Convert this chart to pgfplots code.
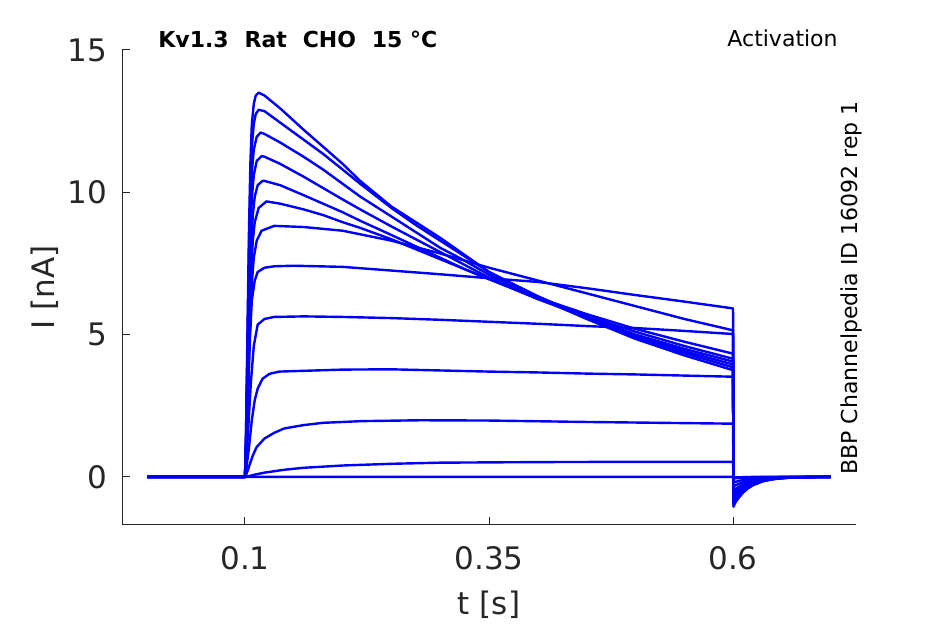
\documentclass[border=0pt]{standalone}
\usepackage{pgfplots}
\pgfplotsset{compat=1.18}
\usepackage{fontspec}
\setmainfont{DejaVu Sans}
\definecolor{axgray}{HTML}{262626}
\definecolor{trblue}{RGB}{0,0,250}
\begin{document}
\begin{tikzpicture}
\path[use as bounding box] (0,0) rectangle (472.5pt,312pt);
\begin{axis}[
  at={(61pt,49.5pt)}, anchor=south west,
  scale only axis, width=367pt, height=237.5pt,
  xmin=-0.026, xmax=0.726, ymin=-1.69, ymax=15,
  axis x line*=bottom, axis y line*=left,
  axis line style={draw=axgray, line width=0.5pt, -},
  tick align=inside, major tick length=4pt,
  tick style={draw=axgray, line width=0.5pt},
  xtick={0.1,0.35,0.6}, ytick={0,5,10,15},
  /pgf/number format/assume math mode=true,
  ticklabel style={font=\fontsize{15.5}{18}\selectfont, text=axgray},
  xticklabel style={yshift=-7pt},
  yticklabel style={xshift=-4pt},
  xlabel={t [s]}, ylabel={I [nA]},
  label style={font=\fontsize{15.5}{18}\selectfont, text=axgray},
  xlabel style={at={(axis description cs:0.5,0)}, anchor=base, yshift=-45pt},
  ylabel style={at={(axis description cs:-0.0926,0.5)}, anchor=base},
  tr/.style={trblue, line width=1.2pt, line join=round},
]
% A
\addplot[tr] coordinates {(0,0) (0.1,0) (0.101,1.5) (0.1025,5) (0.104,8.5) (0.1055,11) (0.107,12.4) (0.109,13.1) (0.111,13.4) (0.114,13.5) (0.12,13.4) (0.136,12.95) (0.16,12.2) (0.18,11.6) (0.2,11.0) (0.218,10.4) (0.25,9.5) (0.275,8.95) (0.3,8.4) (0.325,7.8) (0.35,7.2) (0.4,6.3) (0.45,5.55) (0.5,4.85) (0.55,4.27) (0.6,3.75) (0.6005,-1.05) (0.602,-0.92) (0.605,-0.77) (0.61,-0.56) (0.615,-0.41) (0.62,-0.30) (0.63,-0.16) (0.64,-0.086) (0.65,-0.046) (0.66,-0.024) (0.68,-0.007) (0.7,0)};
% B
\addplot[tr] coordinates {(0,0) (0.1,0) (0.101,1.4) (0.1025,4.6) (0.104,7.8) (0.1055,10.2) (0.107,11.6) (0.109,12.4) (0.111,12.75) (0.114,12.9) (0.12,12.85) (0.136,12.45) (0.16,11.85) (0.18,11.35) (0.2,10.8) (0.218,10.3) (0.25,9.45) (0.275,8.85) (0.3,8.3) (0.325,7.75) (0.35,7.2) (0.4,6.35) (0.45,5.6) (0.5,4.9) (0.55,4.35) (0.6,3.85) (0.6005,-1.0) (0.602,-0.88) (0.605,-0.73) (0.61,-0.535) (0.615,-0.39) (0.62,-0.287) (0.63,-0.153) (0.64,-0.082) (0.65,-0.044) (0.66,-0.023) (0.68,-0.007) (0.7,0)};
% C
\addplot[tr] coordinates {(0,0) (0.1,0) (0.101,1.2) (0.1025,4.0) (0.104,7.0) (0.1055,9.3) (0.107,10.7) (0.109,11.5) (0.112,11.95) (0.116,12.1) (0.12,12.05) (0.136,11.75) (0.16,11.25) (0.18,10.8) (0.2,10.3) (0.218,9.85) (0.25,9.15) (0.275,8.6) (0.3,8.05) (0.325,7.6) (0.35,7.1) (0.4,6.3) (0.45,5.6) (0.5,4.95) (0.55,4.42) (0.6,3.95) (0.6005,-0.95) (0.602,-0.84) (0.605,-0.69) (0.61,-0.51) (0.615,-0.37) (0.62,-0.27) (0.63,-0.145) (0.64,-0.078) (0.65,-0.042) (0.66,-0.022) (0.68,-0.007) (0.7,0)};
% D
\addplot[tr] coordinates {(0,0) (0.1,0) (0.101,1.1) (0.1025,3.6) (0.104,6.3) (0.1055,8.4) (0.107,9.8) (0.109,10.6) (0.112,11.1) (0.117,11.27) (0.12,11.25) (0.136,11.0) (0.16,10.55) (0.18,10.15) (0.2,9.75) (0.218,9.4) (0.25,8.8) (0.275,8.35) (0.3,7.9) (0.325,7.45) (0.35,7.0) (0.4,6.25) (0.45,5.6) (0.5,5.0) (0.55,4.5) (0.6,4.05) (0.6005,-0.9) (0.602,-0.79) (0.605,-0.66) (0.61,-0.48) (0.615,-0.35) (0.62,-0.26) (0.63,-0.14) (0.64,-0.074) (0.65,-0.04) (0.66,-0.021) (0.68,-0.006) (0.7,0)};
% E
\addplot[tr] coordinates {(0,0) (0.1,0) (0.101,1.0) (0.1025,3.2) (0.104,5.6) (0.106,7.9) (0.108,9.2) (0.11,9.85) (0.113,10.25) (0.118,10.4) (0.12,10.4) (0.136,10.25) (0.16,9.9) (0.18,9.6) (0.2,9.3) (0.218,9.0) (0.25,8.5) (0.275,8.1) (0.3,7.7) (0.325,7.3) (0.35,6.95) (0.4,6.25) (0.45,5.65) (0.5,5.1) (0.55,4.6) (0.6,4.15) (0.6005,-0.85) (0.602,-0.75) (0.605,-0.62) (0.61,-0.455) (0.615,-0.33) (0.62,-0.245) (0.63,-0.13) (0.64,-0.07) (0.65,-0.037) (0.66,-0.02) (0.68,-0.006) (0.7,0)};
% F
\addplot[tr] coordinates {(0,0) (0.1,0) (0.101,0.9) (0.1025,2.8) (0.104,4.9) (0.106,7.0) (0.108,8.3) (0.11,8.95) (0.114,9.45) (0.122,9.68) (0.136,9.6) (0.16,9.4) (0.18,9.2) (0.2,8.95) (0.218,8.75) (0.25,8.35) (0.275,8.0) (0.3,7.65) (0.325,7.3) (0.35,6.95) (0.4,6.3) (0.45,5.72) (0.5,5.2) (0.55,4.75) (0.6,4.33) (0.6005,-0.8) (0.602,-0.70) (0.605,-0.58) (0.61,-0.43) (0.615,-0.31) (0.62,-0.23) (0.63,-0.12) (0.64,-0.066) (0.65,-0.035) (0.66,-0.018) (0.68,-0.006) (0.7,0)};
% G
\addplot[tr] coordinates {(0,0) (0.1,0) (0.101,0.7) (0.103,3.0) (0.105,5.3) (0.107,6.8) (0.109,7.7) (0.112,8.3) (0.117,8.65) (0.13,8.82) (0.16,8.78) (0.2,8.65) (0.25,8.3) (0.3,7.85) (0.35,7.35) (0.4,6.9) (0.45,6.45) (0.5,6.0) (0.55,5.55) (0.6,5.15) (0.6005,-0.72) (0.602,-0.63) (0.605,-0.53) (0.61,-0.385) (0.615,-0.28) (0.62,-0.21) (0.63,-0.11) (0.64,-0.059) (0.65,-0.032) (0.66,-0.017) (0.68,-0.005) (0.7,0)};
% H
\addplot[tr] coordinates {(0,0) (0.1,0) (0.101,0.5) (0.103,2.5) (0.105,4.8) (0.107,6.2) (0.11,6.9) (0.113,7.2) (0.12,7.35) (0.13,7.4) (0.15,7.42) (0.2,7.38) (0.25,7.25) (0.3,7.12) (0.35,6.98) (0.4,6.85) (0.45,6.63) (0.5,6.39) (0.55,6.16) (0.6,5.92) (0.6005,-0.62) (0.602,-0.55) (0.605,-0.45) (0.61,-0.33) (0.615,-0.24) (0.62,-0.18) (0.63,-0.095) (0.64,-0.05) (0.65,-0.027) (0.66,-0.014) (0.68,-0.004) (0.7,0)};
% I
\addplot[tr] coordinates {(0,0) (0.1,0) (0.101,0.3) (0.103,1.5) (0.106,3.3) (0.109,4.6) (0.113,5.35) (0.12,5.55) (0.13,5.62) (0.16,5.64) (0.2,5.62) (0.25,5.58) (0.3,5.52) (0.35,5.45) (0.4,5.38) (0.45,5.3) (0.5,5.23) (0.55,5.13) (0.6,5.02) (0.6005,-0.5) (0.602,-0.44) (0.605,-0.365) (0.61,-0.27) (0.615,-0.195) (0.62,-0.14) (0.63,-0.077) (0.64,-0.041) (0.65,-0.022) (0.66,-0.012) (0.68,-0.004) (0.7,0)};
% J
\addplot[tr] coordinates {(0,0) (0.1,0) (0.101,0.2) (0.104,1.0) (0.107,2.0) (0.11,2.7) (0.113,3.1) (0.118,3.45) (0.125,3.62) (0.135,3.7) (0.2,3.77) (0.25,3.78) (0.3,3.74) (0.35,3.7) (0.4,3.67) (0.45,3.63) (0.5,3.6) (0.55,3.56) (0.6,3.52) (0.6005,-0.35) (0.602,-0.31) (0.605,-0.255) (0.61,-0.19) (0.615,-0.135) (0.62,-0.10) (0.63,-0.054) (0.64,-0.029) (0.65,-0.015) (0.66,-0.008) (0.68,-0.002) (0.7,0)};
% K
\addplot[tr] coordinates {(0,0) (0.1,0) (0.101,0.05) (0.104,0.35) (0.108,0.75) (0.112,1.05) (0.12,1.35) (0.13,1.55) (0.14,1.7) (0.16,1.82) (0.18,1.9) (0.22,1.96) (0.28,1.99) (0.35,1.98) (0.45,1.93) (0.55,1.89) (0.6,1.87) (0.6005,-0.2) (0.602,-0.18) (0.605,-0.15) (0.61,-0.11) (0.615,-0.08) (0.62,-0.057) (0.63,-0.03) (0.64,-0.016) (0.65,-0.009) (0.66,-0.005) (0.68,0) (0.7,0)};
% L
\addplot[tr] coordinates {(0,0) (0.1,0) (0.101,0) (0.11,0.08) (0.12,0.15) (0.14,0.25) (0.16,0.32) (0.2,0.4) (0.25,0.46) (0.3,0.5) (0.4,0.52) (0.5,0.53) (0.6,0.53) (0.6005,-0.06) (0.602,-0.05) (0.605,-0.044) (0.61,-0.032) (0.615,-0.023) (0.62,-0.017) (0.63,-0.009) (0.64,-0.005) (0.65,0) (0.7,0)};
% M, N
\addplot[tr] coordinates {(0,0) (0.1,0) (0.6,0) (0.6005,-0.02) (0.61,-0.01) (0.62,0) (0.7,0)};
\addplot[tr] coordinates {(0,0) (0.7,0)};
\end{axis}
\node[inner sep=0pt, anchor=base west, font=\fontsize{11}{13}\selectfont\bfseries] at (79pt,288pt) {Kv1.3\hspace{0.72em}Rat\hspace{0.72em}CHO\hspace{0.72em}15 °C};
\node[inner sep=0pt, anchor=base east, font=\fontsize{11}{13}\selectfont] at (419pt,288.5pt) {Activation};
\node[inner sep=0pt, anchor=base west, rotate=90, font=\fontsize{11}{13}\selectfont] at (428.5pt,74.5pt) {BBP Channelpedia ID 16092 rep 1};
\end{tikzpicture}
\end{document}
